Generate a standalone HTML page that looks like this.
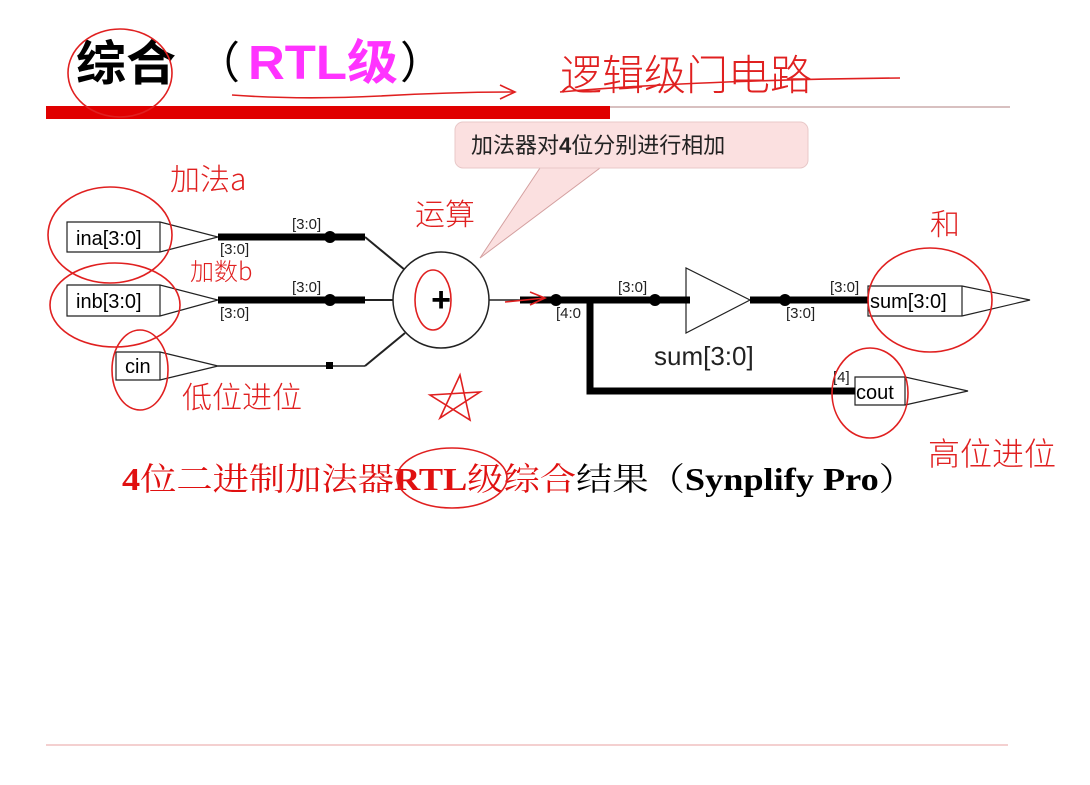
<!DOCTYPE html>
<html><head><meta charset="utf-8"><style>
html,body{margin:0;padding:0;background:#fff;}
svg{display:block;}
</style></head><body>
<svg width="1090" height="785" viewBox="0 0 1090 785" xmlns="http://www.w3.org/2000/svg" font-family="Liberation Sans, Noto Sans CJK SC, sans-serif">
<rect width="1090" height="785" fill="#fff"/>
<!-- title -->
<text x="76" y="80" font-size="48" font-weight="bold" fill="#000" textLength="100" lengthAdjust="spacingAndGlyphs" font-family="Liberation Sans, Noto Sans CJK SC, sans-serif">综合</text>
<text x="196" y="78" font-size="44" fill="#000" font-family="Liberation Sans, Noto Sans CJK SC, sans-serif">（</text>
<text x="248" y="79" font-size="48" font-weight="bold" fill="#ff33ff" textLength="150" lengthAdjust="spacingAndGlyphs" font-family="Liberation Sans, Noto Sans CJK SC, sans-serif">RTL级</text>
<text x="400" y="78" font-size="44" fill="#000" font-family="Liberation Sans, Noto Sans CJK SC, sans-serif">）</text>
<rect x="46" y="106" width="564" height="13" fill="#e00000"/>
<line x1="610" y1="107" x2="1010" y2="107" stroke="#b08080" stroke-width="1"/>
<!-- callout -->
<path d="M480,258 L540,168 L600,168 Z" fill="#fbe0e0" stroke="#d4a0a0" stroke-width="1"/>
<rect x="455" y="122" width="353" height="46" rx="8" fill="#fbe0e0" stroke="#e8c8c8"/>
<text x="471" y="153" font-size="22" fill="#222">加法器对<tspan font-weight="bold">4</tspan>位分别进行相加</text>
<!-- ports left -->
<g stroke="#222" stroke-width="1.2" fill="none">
<path d="M67,222 L160,222 L218,237 L160,252 L67,252 Z" fill="#fff"/>
<line x1="160" y1="222" x2="160" y2="252"/>
<path d="M67,285 L160,285 L218,300 L160,316 L67,316 Z" fill="#fff"/>
<line x1="160" y1="285" x2="160" y2="316"/>
<path d="M116,352 L160,352 L218,366 L160,380 L116,380 Z" fill="#fff"/>
<line x1="160" y1="352" x2="160" y2="380"/>
<line x1="365" y1="237" x2="405" y2="270" stroke-width="2"/>
<line x1="365" y1="300" x2="393" y2="300" stroke-width="2"/>
<line x1="218" y1="366" x2="365" y2="366" stroke-width="1.5"/>
<line x1="365" y1="366" x2="405" y2="333" stroke-width="2"/>
<circle cx="441" cy="300" r="48" stroke-width="1.5" fill="#fff"/>
<line x1="489" y1="300" x2="520" y2="300" stroke-width="1.5"/>
<path d="M686,268 L686,333 L750,300 Z" fill="#fff"/>
<path d="M868,286 L962,286 L1030,300 L962,316 L868,316 Z" fill="#fff"/>
<line x1="962" y1="286" x2="962" y2="316"/>
<path d="M855,377 L905,377 L968,391 L905,405 L855,405 Z" fill="#fff"/>
<line x1="905" y1="377" x2="905" y2="405"/>
</g>
<g stroke="#000" stroke-width="7" fill="none">
<line x1="218" y1="237" x2="365" y2="237"/>
<line x1="218" y1="300" x2="365" y2="300"/>
<line x1="520" y1="300" x2="690" y2="300"/>
<path d="M590,300 L590,391 L855,391"/>
<line x1="750" y1="300" x2="868" y2="300"/>
</g>
<g fill="#000">
<circle cx="330" cy="237" r="6"/><circle cx="330" cy="300" r="6"/>
<rect x="326" y="362" width="7" height="7"/>
<circle cx="556" cy="300" r="6"/><circle cx="655" cy="300" r="6"/><circle cx="785" cy="300" r="6"/>
</g>
<text x="441" y="311" font-size="34" font-weight="bold" text-anchor="middle">+</text>
<g font-size="15" fill="#222">
<text x="292" y="229">[3:0]</text><text x="220" y="254">[3:0]</text>
<text x="292" y="292">[3:0]</text><text x="220" y="318">[3:0]</text>
<text x="556" y="318">[4:0</text>
<text x="618" y="292">[3:0]</text><text x="830" y="292">[3:0]</text><text x="786" y="318">[3:0]</text>
<text x="833" y="382">[4]</text>
</g>
<g font-size="20" fill="#000">
<text x="76" y="245">ina[3:0]</text>
<text x="76" y="308">inb[3:0]</text>
<text x="125" y="373">cin</text>
<text x="870" y="308">sum[3:0]</text>
<text x="856" y="399">cout</text>
</g>
<text x="654" y="365" font-size="26" fill="#222">sum[3:0]</text>
<!-- caption -->
<text x="122" y="490" font-size="32" font-weight="bold" textLength="793" lengthAdjust="spacingAndGlyphs" font-family="Liberation Serif, Noto Serif CJK SC, serif" fill="#e01010">4<tspan font-weight="normal">位二进制加法器</tspan>RTL<tspan font-weight="normal">级综合</tspan><tspan fill="#000" font-weight="normal">结果（</tspan><tspan fill="#000">Synplify Pro</tspan><tspan fill="#000" font-weight="normal">）</tspan></text>
<line x1="46" y1="745" x2="1008" y2="745" stroke="#f0c0c0" stroke-width="1.5"/>
<!-- handwriting -->
<g stroke="#e02020" stroke-width="1.6" fill="none">
<ellipse cx="120" cy="73" rx="52" ry="44"/>
<path d="M232,95 Q300,100 380,96 Q450,92 515,92"/><path d="M500,85 L515,92 L500,99"/>
<path d="M560,92 Q700,80 900,78"/>
<ellipse cx="110" cy="235" rx="62" ry="48"/>
<ellipse cx="115" cy="305" rx="65" ry="42"/>
<ellipse cx="140" cy="370" rx="28" ry="40"/>
<ellipse cx="433" cy="300" rx="18" ry="30"/>
<ellipse cx="930" cy="300" rx="62" ry="52"/>
<ellipse cx="870" cy="393" rx="38" ry="45"/>
<ellipse cx="452" cy="478" rx="55" ry="30"/>
<path d="M505,302 L545,298 M530,292 L545,298 L530,305"/>
<path d="M440,418 L460,375 L470,420 L430,395 L480,392 Z"/>
</g>
<g fill="#e02020" font-family="Noto Sans CJK SC, sans-serif" font-weight="300">
<text x="560" y="90" font-size="42">逻辑级门电路</text>
<text x="170" y="190" font-size="30">加法a</text>
<text x="190" y="280" font-size="24">加数b</text>
<text x="182" y="408" font-size="30">低位进位</text>
<text x="415" y="225" font-size="30">运算</text>
<text x="930" y="235" font-size="30">和</text>
<text x="928" y="465" font-size="32">高位进位</text>
</g>
</svg>
</body></html>
